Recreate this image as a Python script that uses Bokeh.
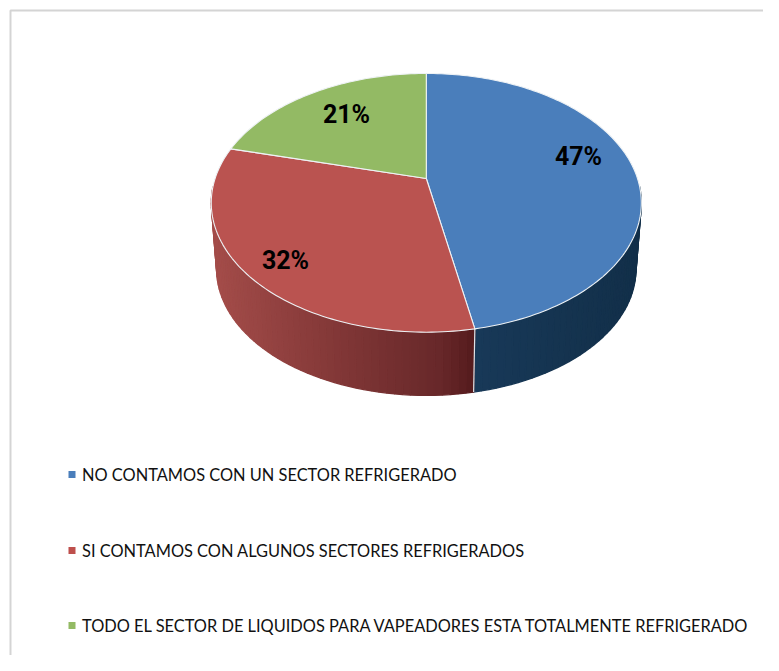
import math
from bokeh.plotting import figure
from bokeh.models import Range1d
from bokeh.core.properties import value
from bokeh.embed import file_html
from bokeh.resources import INLINE

# --- data
categories = [
    "NO CONTAMOS CON UN SECTOR REFRIGERADO",
    "SI CONTAMOS CON ALGUNOS SECTORES REFRIGERADOS",
    "TODO EL SECTOR DE LIQUIDOS PARA VAPEADORES ESTA TOTALMENTE REFRIGERADO",
]
values = [47, 32, 21]
top_colors = ["#4A7EBB", "#BA5350", "#93BA64"]
legend_colors = ["#4A7EBB", "#BE4F4C", "#93BA64"]

# --- layout (picture pixels)
W, H = 763, 655
OX, OY = 0, 0
VX, VY = 425.8, 178.0      # apex of the top face
C, A, D = -0.188, 124.8, 211.2  # perspective of the top face
VYB, SCALE = 245.0, 0.975  # bottom rim
label_xy = [(578, 156), (285, 260), (346, 114)]
legend_y = [474, 550, 625]
LEG_MX, LEG_TX = 71.5, 81.5

p = figure(width=W, height=H, output_backend="svg", toolbar_location=None,
           x_range=Range1d(OX, OX + W), y_range=Range1d(OY + H, OY),
           min_border=0, outline_line_color=None, background_fill_color="white",
           border_fill_color="white", x_axis_type=None, y_axis_type=None)
p.grid.visible = False


def rim(theta):
    u, v = math.sin(theta), -math.cos(theta)
    d = 1 + C * v
    return D * u / d, A * v / d


def lerp_stops(stops, x):
    if x <= stops[0][0]:
        return stops[0][1]
    for (x0, c0), (x1, c1) in zip(stops, stops[1:]):
        if x <= x1:
            t = (x - x0) / (x1 - x0)
            return tuple(c0[i] + t * (c1[i] - c0[i]) for i in range(3))
    return stops[-1][1]


def hexc(c):
    return "#%02x%02x%02x" % tuple(int(round(k)) for k in c)


side_stops = [
    [(474, (24, 57, 88)), (640, (18, 47, 73))],
    [(214, (163, 76, 73)), (350, (126, 53, 53)), (440, (104, 40, 42)), (474, (84, 26, 28))],
    [(214, (110, 135, 70)), (430, (110, 135, 70))],
]

total = sum(values)
bounds = [0.0]
for val in values:
    bounds.append(bounds[-1] + val / total * 2 * math.pi)

# side wall (front part only)
sx, sy, sc = [], [], []
for i in range(len(values)):
    a0, a1 = bounds[i], bounds[i + 1]
    n = max(8, int((a1 - a0) / (2 * math.pi) * 200))
    for k in range(n):
        t0 = a0 + (a1 - a0) * k / n
        t1 = a0 + (a1 - a0) * (k + 1) / n
        x0, y0 = rim(t0)
        x1, y1 = rim(t1)
        if y0 < 6 or y1 < 6:
            continue
        sx.append([VX + x0, VX + x1, VX + SCALE * x1, VX + SCALE * x0])
        sy.append([VY + y0, VY + y1, VYB + SCALE * y1, VYB + SCALE * y0])
        sc.append(hexc(lerp_stops(side_stops[i], VX + (x0 + x1) / 2)))
p.patches(sx, sy, fill_color=sc, line_color=sc, line_width=1.3)

# seam on the wall at the first boundary
sxb, syb = rim(bounds[1])
p.line([VX + sxb, VX + SCALE * sxb], [VY + syb, VYB + SCALE * syb],
       line_color="#DDE3E8", line_width=1.2)

# top face
fx, fy = [], []
for i in range(len(values)):
    a0, a1 = bounds[i], bounds[i + 1]
    n = max(8, int((a1 - a0) / (2 * math.pi) * 300))
    xs, ys = [VX], [VY]
    for k in range(n + 1):
        xr, yr = rim(a0 + (a1 - a0) * k / n)
        xs.append(VX + xr)
        ys.append(VY + yr)
    fx.append(xs)
    fy.append(ys)
p.patches(fx, fy, fill_color=top_colors, line_color="#EEF2F5", line_width=1.1, line_join="round")

# percentage labels
p.text([q[0] for q in label_xy], [q[1] for q in label_xy],
       text=[f"{v}%" for v in values], text_font=value("Roboto"),
       text_font_style="bold", text_font_size="25px", text_color="black",
       text_align="center", text_baseline="middle")

# legend
p.scatter([LEG_MX] * 3, legend_y, marker="square", size=7, fill_color=legend_colors, line_color=None)
p.text([LEG_TX] * 3, legend_y, text=categories, text_font=value("Lato"),
       text_font_size="16.4px", text_color="#111111", text_align="left", text_baseline="middle")

# frame lines of the picture
p.line([OX + W, 10, 10], [10, 10, OY + H], line_color="#D4D4D4", line_width=2)

open("out.html", "w").write(file_html(p, INLINE))
